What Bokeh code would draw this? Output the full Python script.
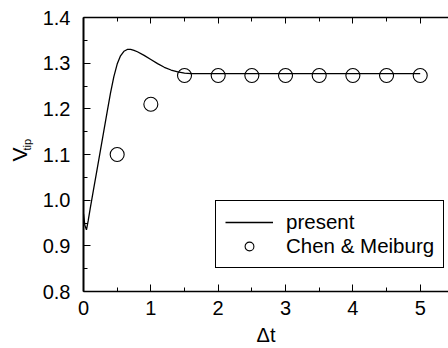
import math
from bokeh.plotting import figure
from bokeh.models import (FixedTicker, PrintfTickFormatter, LinearAxis,
                          CustomLabelingPolicy, Title, Legend, LegendItem, Range1d)
from bokeh.embed import file_html
from bokeh.resources import INLINE

# --- data ---
t_present = [0.0, 0.02, 0.044, 0.07, 0.10, 0.15, 0.20, 0.25, 0.30, 0.35, 0.40,
             0.45, 0.50, 0.55, 0.60, 0.65, 0.70, 0.75, 0.80, 0.90, 1.0, 1.1,
             1.2, 1.3, 1.4, 1.5, 1.6, 1.8, 2.0, 2.5, 3.0, 3.5, 4.0, 4.5, 5.0]
v_present = [0.97, 0.945, 0.935, 0.955, 0.982, 1.024, 1.066, 1.108, 1.150,
             1.192, 1.234, 1.270, 1.298, 1.316, 1.326, 1.330, 1.330, 1.328,
             1.325, 1.317, 1.308, 1.299, 1.291, 1.285, 1.281, 1.278, 1.277,
             1.277, 1.277, 1.277, 1.277, 1.277, 1.277, 1.277, 1.277]

t_chen = [0.5, 1.0, 1.5, 2.0, 2.5, 3.0, 3.5, 4.0, 4.5, 5.0]
v_chen = [1.10, 1.21, 1.273, 1.273, 1.273, 1.273, 1.273, 1.273, 1.273, 1.273]

x_major_ticks = [0, 1, 2, 3, 4, 5]
x_minor_ticks = [0.5, 1.5, 2.5, 3.5, 4.5]
y_major_ticks = [0.8, 0.9, 1.0, 1.1, 1.2, 1.3, 1.4]
y_minor_ticks = [0.85, 0.95, 1.05, 1.15, 1.25, 1.35]
x_label = "Δt"
y_label_main = "V"
y_label_sub = "tip"
legend_labels = ["present", "Chen & Meiburg"]

FONT = "Liberation Sans"
FS = "20px"

p = figure(width=448, height=348,
           x_range=Range1d(0, 5.42), y_range=Range1d(0.8, 1.4),
           output_backend="svg", toolbar_location=None,
           min_border_left=83, min_border_top=17, min_border_bottom=55,
           min_border_right=0)
p.background_fill_color = "white"
p.border_fill_color = "white"
p.outline_line_color = None
p.xgrid.visible = False
p.ygrid.visible = False


def style(ax, lw=1.5, major=7, minor=4):
    ax.major_tick_in = major
    ax.major_tick_out = 0
    ax.minor_tick_in = minor
    ax.minor_tick_out = 0
    ax.axis_line_width = lw
    ax.axis_line_color = "black"
    ax.major_tick_line_color = "black"
    ax.minor_tick_line_color = "black"
    ax.major_label_text_font = FONT
    ax.major_label_text_font_size = FS
    ax.major_label_text_color = "black"
    ax.axis_label_text_font = FONT
    ax.axis_label_text_font_style = "normal"
    ax.axis_label_text_color = "black"


xa = p.xaxis[0]
xa.ticker = FixedTicker(ticks=x_major_ticks, minor_ticks=x_minor_ticks)
xa.formatter = PrintfTickFormatter(format="%d")
style(xa, lw=1.5)
xa.major_label_standoff = 9
xa.axis_label = x_label
xa.axis_label_text_font_size = FS
xa.axis_label_standoff = 6

ya = p.yaxis[0]
ya.ticker = FixedTicker(ticks=y_major_ticks, minor_ticks=y_minor_ticks)
ya.formatter = PrintfTickFormatter(format="%.1f")
style(ya, lw=2)
ya.major_label_standoff = 13
ya.axis_label = y_label_main
ya.axis_label_text_font_size = "21px"
ya.axis_label_standoff = 9

top = LinearAxis(ticker=FixedTicker(ticks=x_major_ticks, minor_ticks=x_minor_ticks),
                 major_label_policy=CustomLabelingPolicy(code="return []"))
style(top, lw=1.5, major=6, minor=4)
top.major_label_text_font_size = "1px"
top.major_label_standoff = 0
p.add_layout(top, "above")

# subscript of the y-axis label, pulled in next to the "V"
sub = Title(text=y_label_sub, align="left", vertical_align="bottom",
            offset=141, standoff=-56, text_font=FONT, text_font_size="11px",
            text_font_style="normal", text_color="black")
p.add_layout(sub, "left")

r_line = p.line(t_present, v_present, line_color="black", line_width=1.3)
r_pts = p.scatter(t_chen, v_chen, size=14, marker="circle", fill_color=None,
                  line_color="black", line_width=1.1)

legend = Legend(items=[LegendItem(label=legend_labels[0], renderers=[r_line]),
                       LegendItem(label=legend_labels[1], renderers=[r_pts])],
                location=(132, 23), orientation="vertical")
legend.glyph_width = 48
legend.glyph_height = 22
legend.label_height = 22
legend.label_standoff = 13
legend.spacing = 0
legend.padding = 9
legend.margin = 0
legend.border_line_color = "black"
legend.border_line_alpha = 1
legend.border_line_width = 1
legend.background_fill_alpha = 1
legend.label_text_font = FONT
legend.label_text_font_size = "20.5px"
legend.label_text_color = "black"
legend.label_text_baseline = "middle"
p.add_layout(legend, "center")

open("out.html", "w").write(file_html(p, INLINE))
